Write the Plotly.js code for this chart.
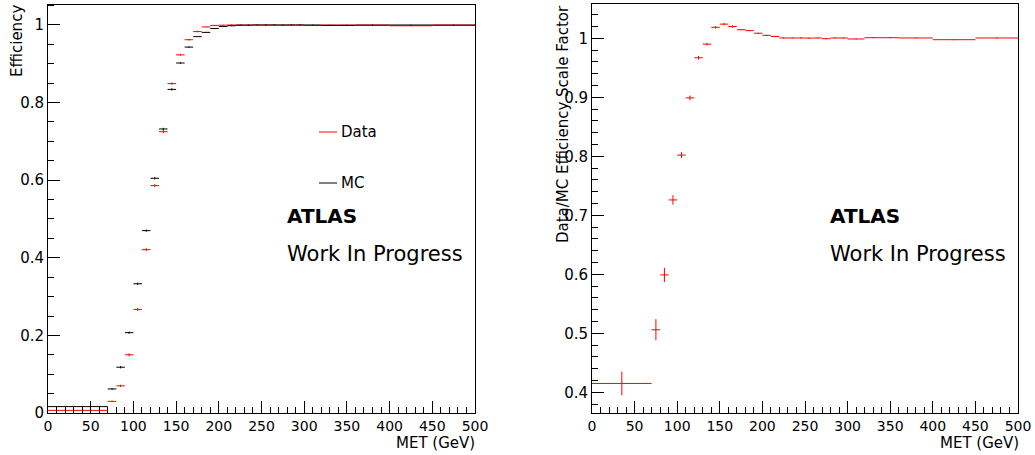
<!DOCTYPE html>
<html>
<head>
<meta charset="utf-8">
<script src="https://cdn.plot.ly/plotly-3.0.1.min.js"></script>
<style>
html,body{margin:0;padding:0;background:#fff;}
#chart{width:1035px;height:455px;}
</style>
</head>
<body>
<div id="chart"></div>
<script>
// Bin centres (GeV) and half widths
const binCenters = [35, 75, 85, 95, 105, 115, 125, 135, 145, 155, 165, 175, 185, 195, 205, 215, 225, 235, 245, 255, 265, 275, 285, 295, 310, 330, 350, 380, 425, 475];
const binHalfWidths = [35, 5, 5, 5, 5, 5, 5, 5, 5, 5, 5, 5, 5, 5, 5, 5, 5, 5, 5, 5, 5, 5, 5, 5, 10, 10, 10, 20, 25, 25];

// Efficiencies
const dataEff = [0.0068, 0.030, 0.070, 0.150, 0.267, 0.421, 0.586, 0.725, 0.849, 0.923, 0.962, 0.983, 0.995, 0.999, 0.9995, 1.000, 1.000, 1.000, 1.000, 1.000, 1.000, 0.9995, 1.000, 1.000, 0.999, 1.000, 1.000, 1.000, 0.998, 1.000];
const dataErr = [0.0008, 0.002, 0.003, 0.004, 0.004, 0.004, 0.004, 0.004, 0.003, 0.002, 0.002, 0.002, 0.001, 0.001, 0.001, 0.001, 0.001, 0.001, 0.001, 0.001, 0.001, 0.001, 0.001, 0.001, 0.001, 0.001, 0.001, 0.001, 0.001, 0.001];
const mcEff = [0.0165, 0.062, 0.118, 0.207, 0.333, 0.470, 0.605, 0.732, 0.834, 0.902, 0.943, 0.970, 0.981, 0.991, 0.996, 0.998, 0.9995, 0.9995, 1.000, 1.000, 1.000, 1.000, 1.000, 1.000, 1.000, 0.999, 0.999, 0.9995, 1.000, 0.9995];
const mcErr = [0.0006, 0.002, 0.003, 0.003, 0.003, 0.003, 0.003, 0.003, 0.003, 0.002, 0.002, 0.001, 0.001, 0.001, 0.001, 0.001, 0.001, 0.001, 0.001, 0.001, 0.001, 0.001, 0.001, 0.001, 0.001, 0.001, 0.001, 0.001, 0.001, 0.001];

// Scale factors
const scaleFactor = [0.415, 0.506, 0.599, 0.726, 0.802, 0.899, 0.967, 0.990, 1.0186, 1.024, 1.020, 1.0145, 1.013, 1.0085, 1.005, 1.003, 1.0005, 1.0005, 1.0005, 1.0003, 1.0005, 0.9993, 1.0005, 1.0005, 0.9988, 1.001, 1.001, 1.0005, 0.9976, 1.0005];
const scaleFactorErr = [0.020, 0.018, 0.012, 0.008, 0.005, 0.004, 0.003, 0.002, 0.002, 0.002, 0.002, 0.001, 0.001, 0.001, 0.001, 0.001, 0.001, 0.001, 0.001, 0.001, 0.001, 0.001, 0.001, 0.001, 0.001, 0.001, 0.001, 0.001, 0.001, 0.001];

const legendLabels = ["Data", "MC"];
const RED = '#ff0000', BLACK = '#000000';
const FONT = 'DejaVu Sans, Verdana, sans-serif';

function errTrace(y, ey, color, xa, ya, name) {
  return {
    type: 'scatter', mode: 'markers', name: name,
    x: binCenters, y: y, xaxis: xa, yaxis: ya,
    marker: {size: 1, color: 'rgba(0,0,0,0)'},
    error_x: {type: 'data', array: binHalfWidths, visible: true, color: color, thickness: 1, width: 0},
    error_y: {type: 'data', array: ey, visible: true, color: color, thickness: 1, width: 0},
    showlegend: false, hoverinfo: 'x+y'
  };
}

const traces = [
  errTrace(dataEff, dataErr, RED, 'x', 'y', legendLabels[0]),
  errTrace(mcEff, mcErr, BLACK, 'x', 'y', legendLabels[1]),
  errTrace(scaleFactor, scaleFactorErr, RED, 'x2', 'y2', 'Scale Factor')
];

const W = 1035, H = 455;
const px = v => v / W;
const py = v => (H - v) / H;

function xAxis(d0, d1, anchor) {
  return {
    domain: [px(d0), px(d1)], range: [0, 500], anchor: anchor,
    tick0: 0, dtick: 50, ticks: 'inside', ticklen: 12, tickwidth: 1, tickcolor: '#000',
    minor: {dtick: 10, ticks: 'inside', ticklen: 6, tickwidth: 1, tickcolor: '#000', showgrid: false},
    showline: true, linecolor: '#000', linewidth: 1, mirror: true,
    showgrid: false, zeroline: false,
    tickfont: {family: FONT, size: 14, color: '#000'}
  };
}
function yAxis(range, dtick, mdtick, anchor, top) {
  return {
    domain: [py(413), py(top)], range: range, anchor: anchor,
    dtick: dtick, tick0: 0, ticks: 'inside', ticklen: 12, tickwidth: 1, tickcolor: '#000',
    minor: {dtick: mdtick, ticks: 'inside', ticklen: 6, tickwidth: 1, tickcolor: '#000', showgrid: false},
    showline: true, linecolor: '#000', linewidth: 1, mirror: true,
    showgrid: false, zeroline: false,
    tickfont: {family: FONT, size: 15, color: '#000'}
  };
}

function note(text, x, y, xa, ya, size, angle) {
  return {text: text, xref: 'paper', yref: 'paper', x: x, y: y, xanchor: xa, yanchor: ya,
          textangle: angle || 0, showarrow: false, borderpad: 0,
          font: {family: FONT, size: size, color: '#000'}};
}

const annotations = [
  note('Efficiency', px(17), py(4), 'center', 'top', 15, -90),
  note('MET (GeV)', px(476), py(443), 'right', 'middle', 15),
  note('Data/MC Efficiency Scale Factor', px(563), py(4), 'center', 'top', 15, -90),
  note('MET (GeV)', px(1020), py(443), 'right', 'middle', 15),
  note(legendLabels[0], px(340), py(132), 'left', 'middle', 15),
  note(legendLabels[1], px(340), py(183), 'left', 'middle', 15),
  note('<b>ATLAS</b>', px(286), py(216), 'left', 'middle', 20),
  note('Work In Progress', px(286), py(254), 'left', 'middle', 21),
  note('<b>ATLAS</b>', px(829), py(216), 'left', 'middle', 20),
  note('Work In Progress', px(829), py(254), 'left', 'middle', 21)
];

const shapes = [
  {type: 'line', xref: 'paper', yref: 'paper', x0: px(319), x1: px(337), y0: py(132), y1: py(132), line: {color: RED, width: 1}},
  {type: 'line', xref: 'paper', yref: 'paper', x0: px(319), x1: px(337), y0: py(183), y1: py(183), line: {color: BLACK, width: 1}}
];

const layout = {
  width: W, height: H,
  margin: {l: 0, r: 0, t: 0, b: 0},
  paper_bgcolor: '#fff', plot_bgcolor: '#fff',
  showlegend: false,
  font: {family: FONT, color: '#000'},
  xaxis: xAxis(48, 475, 'y'),
  yaxis: yAxis([0, 1.0528], 0.2, 0.05, 'x', 4.5),
  xaxis2: xAxis(592, 1018, 'y2'),
  yaxis2: yAxis([0.3649, 1.0581], 0.1, 0.02, 'x2', 4),
  annotations: annotations,
  shapes: shapes
};

Plotly.newPlot('chart', traces, layout, {staticPlot: true, displayModeBar: false});
</script>
</body>
</html>
